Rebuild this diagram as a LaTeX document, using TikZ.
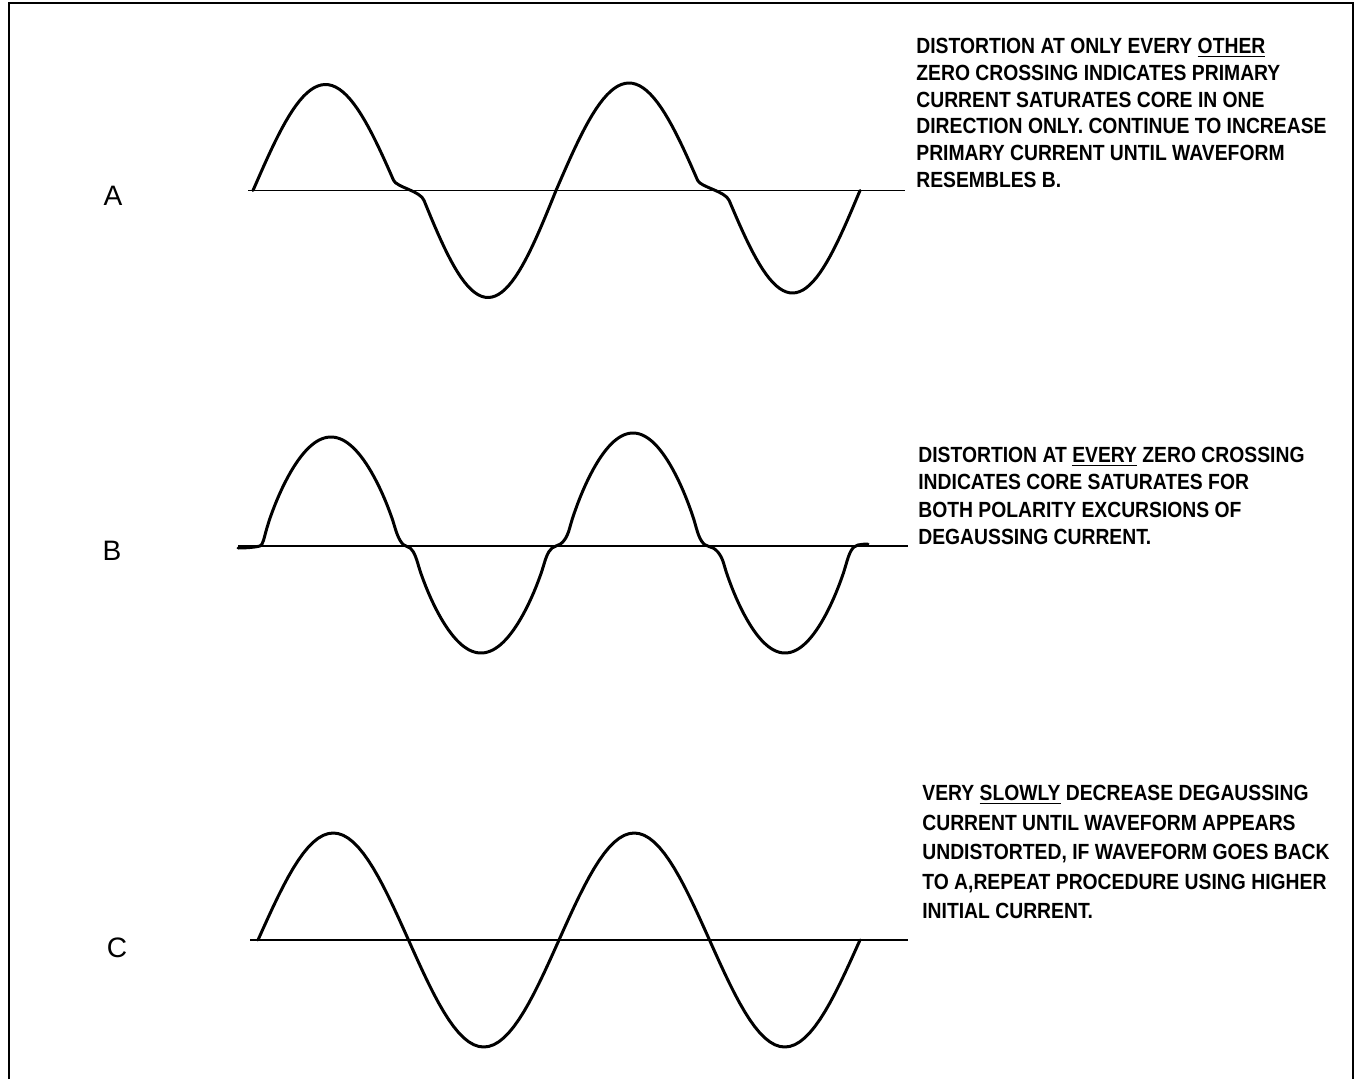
\documentclass[tikz,border=0pt]{standalone}
\usepackage{fontspec}
\setmainfont{Liberation Sans}
\newfontfamily\notefont[FakeStretch=0.88]{Liberation Sans}
\tikzset{
  frame/.style={line width=1.2pt, draw=black},
  axis/.style={line width=1pt, draw=black},
  wave/.style={line width=1.7pt, draw=black, line join=round, line cap=round},
  tag/.style={inner sep=0pt, font=\fontsize{16}{18}\selectfont},
  note/.style={inner sep=0pt, anchor=north west, align=left,
               font=\notefont\bfseries\fontsize{12.5}{#1}\selectfont},
}
\begin{document}
\begin{tikzpicture}[x=0.02cm, y=-0.02cm]
  \useasboundingbox (0,0) rectangle (1356,1079);
  \draw[frame] (9,1079) -- (9,3) -- (1353,3) -- (1353,1079);

  % Waveform A: knee only after the positive half
  \draw[axis] (248,190.5) -- (905,190.5);
  \draw[wave] plot[domain=253:393.5, samples=40] (\x,{190.5-106*sin(1.24138*(\x-253))})
    .. controls (396.5,187.4) and (420.1,190.6) .. (424.1,200.5)
    -- plot[domain=424.1:556, samples=40] (\x,{190.5+107*sin(1.32353*(\x-420))})
    -- plot[domain=556:697.6, samples=40] (\x,{190.5-107.5*sin(1.23288*(\x-556))})
    .. controls (700.6,187.2) and (725.2,191) .. (729.2,200.5)
    -- plot[domain=729.2:860, samples=40] (\x,{190.5+102.5*sin(1.33333*(\x-725))});
  \node[tag] (labelA) at (113,196) {A};
  \node[note=15.2] (noteA) at (916,38) {DISTORTION AT ONLY EVERY \underline{OTHER}\\
    ZERO CROSSING INDICATES PRIMARY\\
    CURRENT SATURATES CORE IN ONE\\
    DIRECTION ONLY. CONTINUE TO INCREASE\\
    PRIMARY CURRENT UNTIL WAVEFORM\\
    RESEMBLES B.};

  % Waveform B: knee at every crossing
  \draw[axis] (238,546) -- (908,546);
  \draw[wave] (238,548) .. controls (248,548) and (256,547) .. (260,546)
    .. controls (263,545) and (263.9,538.3) .. (266.9,528)
    -- plot[domain=266.9:395.1, samples=50] (\x,{546-109*pow(sin(1.32353*(\x-263)),0.75)})
    .. controls (398.1,538.3) and (402,545.5) .. (407,546.5)
    .. controls (412,547.5) and (415,553.7) .. (418,564)
    -- plot[domain=418:544, samples=50] (\x,{546+107*pow(sin(1.34328*(\x-414)),0.75)})
    .. controls (547,553.8) and (550,547.5) .. (556,546)
    .. controls (562,544.5) and (566.7,539) .. (569.7,528)
    -- plot[domain=569.7:696.3, samples=50] (\x,{546-113*pow(sin(1.34328*(\x-566)),0.75)})
    .. controls (699.3,539) and (703,545.5) .. (709,546.5)
    .. controls (715,547.5) and (720.9,553.5) .. (723.9,564)
    -- plot[domain=723.9:846.1, samples=50] (\x,{546+107*pow(sin(1.38462*(\x-720)),0.75)})
    .. controls (849.1,553.5) and (852,546) .. (858,545)
    .. controls (862,544.3) and (865,544) .. (868,544);
  \node[tag] (labelB) at (112,551) {B};
  \node[note=15.5] (noteB) at (918,447) {DISTORTION AT \underline{EVERY} ZERO CROSSING\\
    INDICATES CORE SATURATES FOR\\
    BOTH POLARITY EXCURSIONS OF\\
    DEGAUSSING CURRENT.};

  % Waveform C: undistorted
  \draw[axis] (250,940) -- (908,940);
  \draw[wave] plot[domain=258:860, samples=121] (\x, {940-107*sin(1.19601*(\x-258))});
  \node[tag] (labelC) at (117,948) {C};
  \node[note=16.8] (noteC) at (922,785) {VERY \underline{SLOWLY} DECREASE DEGAUSSING\\
    CURRENT UNTIL WAVEFORM APPEARS\\
    UNDISTORTED, IF WAVEFORM GOES BACK\\
    TO A,REPEAT PROCEDURE USING HIGHER\\
    INITIAL CURRENT.};
\end{tikzpicture}
\end{document}
